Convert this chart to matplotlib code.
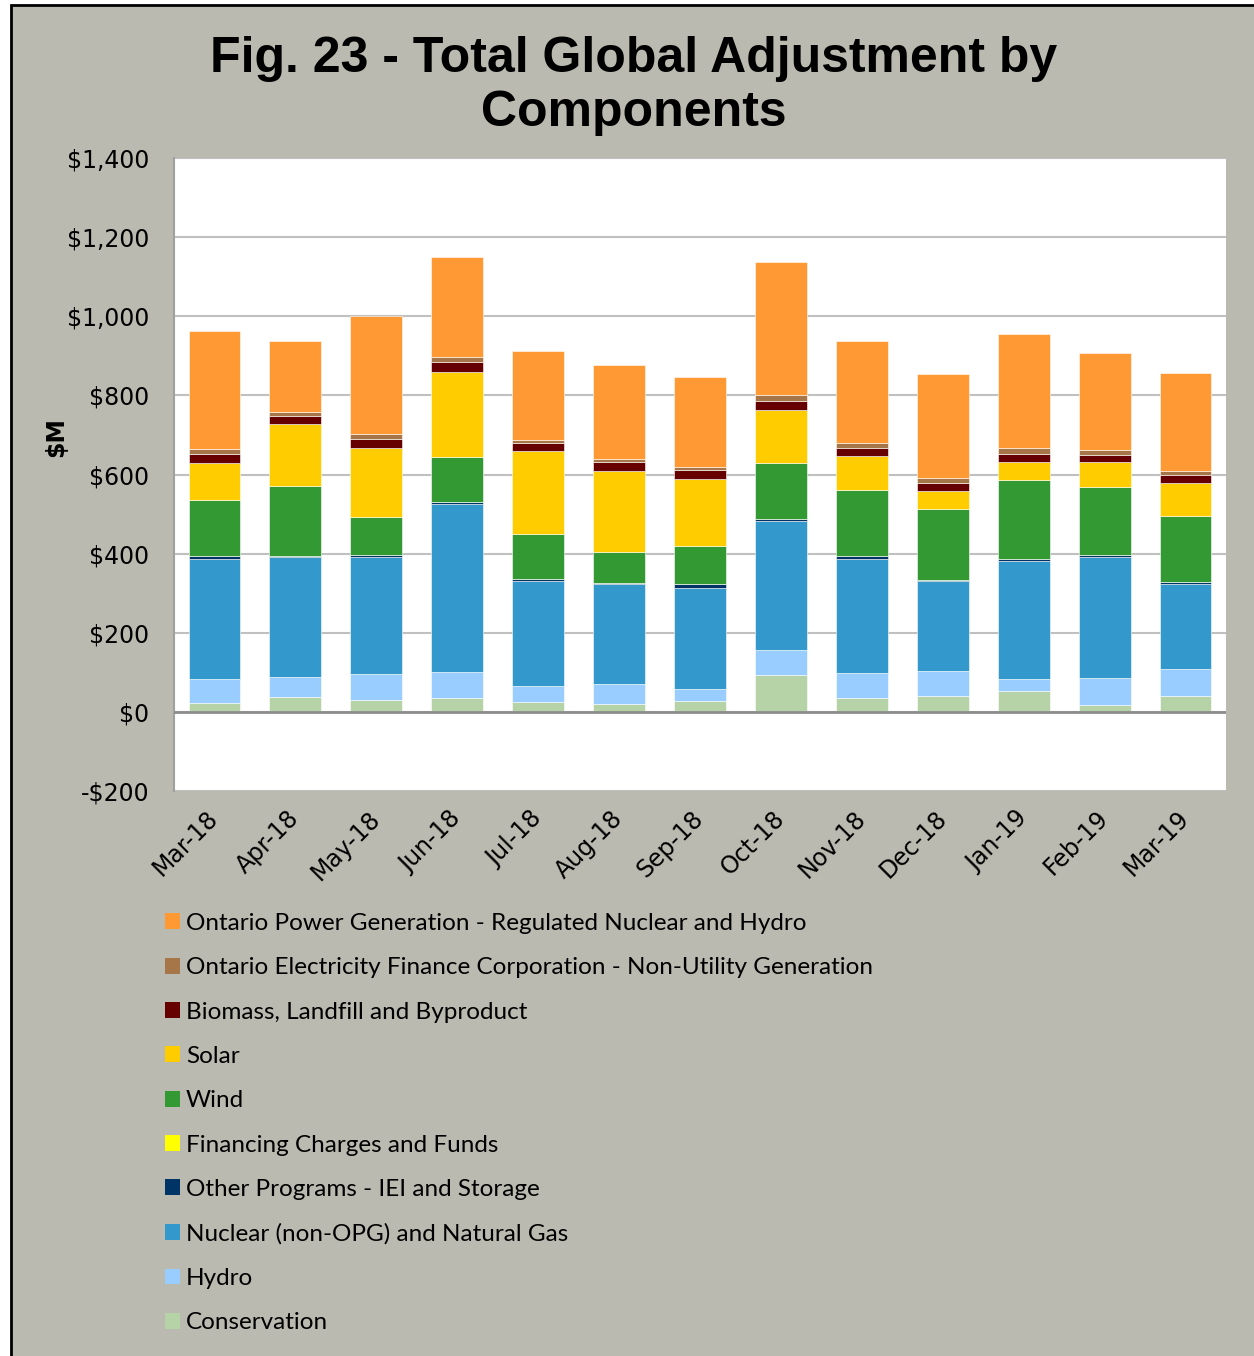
import matplotlib
matplotlib.use("Agg")
import matplotlib.pyplot as plt
from matplotlib.patches import Rectangle, Patch
import numpy as np

months = ["Mar-18", "Apr-18", "May-18", "Jun-18", "Jul-18", "Aug-18", "Sep-18",
          "Oct-18", "Nov-18", "Dec-18", "Jan-19", "Feb-19", "Mar-19"]

# $M per component, bottom of stack first
conservation = [22, 37, 30, 35, 24, 20, 27, 94, 34, 40, 53, 17, 39]
hydro = [60, 51, 66, 66, 41, 51, 31, 63, 65, 63, 30, 69, 69]
nuclear_gas = [304, 303, 295, 425, 266, 251, 256, 325, 288, 229, 298, 306, 214]
other_programs = [9, 2, 6, 4, 5, 4, 8, 5, 8, 2, 6, 5, 6]
financing = [0, 0, 0, 0, 0, 0, 0, 0, 0, 0, 0, 0, 0]
wind = [141, 178, 96, 114, 114, 77, 98, 141, 167, 180, 198, 172, 168]
solar = [92, 156, 175, 215, 209, 205, 169, 134, 85, 44, 46, 62, 83]
biomass = [23, 22, 21, 26, 21, 23, 23, 24, 19, 20, 21, 19, 19]
oefc = [14, 8, 14, 12, 7, 8, 8, 15, 14, 12, 14, 11, 12]
opg = [297, 181, 297, 254, 224, 238, 227, 335, 257, 264, 290, 246, 247]

series = [
    ("Conservation", conservation, "#B5D3A7"),
    ("Hydro", hydro, "#99CCFF"),
    ("Nuclear (non-OPG) and Natural Gas", nuclear_gas, "#3399CC"),
    ("Other Programs - IEI and Storage", other_programs, "#003366"),
    ("Financing Charges and Funds", financing, "#FFFF00"),
    ("Wind", wind, "#339933"),
    ("Solar", solar, "#FFCC00"),
    ("Biomass, Landfill and Byproduct", biomass, "#660000"),
    ("Ontario Electricity Finance Corporation - Non-Utility Generation", oefc, "#A67548"),
    ("Ontario Power Generation - Regulated Nuclear and Hydro", opg, "#FF9933"),
]

W, H = 1254, 1356
fig = plt.figure(figsize=(W / 100, H / 100), dpi=100)
fig.patch.set_facecolor("white")
fig.patches.append(Rectangle((11 / W, -0.01), 1.1, 1 - 5 / H + 0.01, transform=fig.transFigure,
                             facecolor="#BABAB0", edgecolor="black", linewidth=2, zorder=-10))

ax = fig.add_axes([174 / W, 1 - 791 / H, (1226 - 174) / W, (791 - 158) / H])
ax.set_facecolor("white")

x = np.arange(len(months))
bottom = np.zeros(len(months))
for name, vals, color in series:
    vals = np.array(vals, dtype=float)
    ax.bar(x, vals, 0.64, bottom=bottom, color=color, edgecolor="white", linewidth=0.4,
           label=name, zorder=3)
    bottom += vals

ax.set_xlim(-0.5, len(months) - 0.5)
ax.set_ylim(-200, 1400)
ax.set_yticks(range(-200, 1401, 200))
ax.set_yticklabels([f"-${abs(v):,}" if v < 0 else f"${v:,}" for v in range(-200, 1401, 200)],
                   fontsize=17, family="DejaVu Sans")
ax.yaxis.grid(True, color="#C0C0C0", linewidth=1.5, zorder=0)
ax.axhline(0, color="#8C8C8C", linewidth=2, zorder=4)
ax.set_xticks(x)
ax.set_xticklabels(months, rotation=45, ha="right", va="center", rotation_mode="anchor",
                   fontsize=17, family="DejaVu Sans")
ax.tick_params(axis="y", length=0, pad=18)
ax.tick_params(axis="x", length=0, pad=17)
for s in ["top", "right", "bottom"]:
    ax.spines[s].set_visible(False)
ax.spines["left"].set_color("#A0A0A0")
ax.spines["left"].set_linewidth(1.5)

fig.text(56 / W, 1 - 437 / H, "$M", rotation=90, ha="center", va="center",
         fontsize=17, fontweight="bold", family="DejaVu Sans")

fig.text(634 / W, 1 - 86 / H, "Fig. 23 - Total Global Adjustment by\nComponents",
         ha="center", va="center", fontsize=36, fontweight="bold",
         family="Liberation Sans", linespacing=1.22)

handles = [Patch(facecolor=c, edgecolor="none") for _, _, c in series][::-1]
labels = [n for n, _, _ in series][::-1]
fig.legend(handles, labels, loc="upper left", bbox_to_anchor=(143 / W, 1 - 891 / H),
           frameon=False, prop={"family": "Lato", "size": 17.5},
           handlelength=0.62, handleheight=0.62, handletextpad=0.25, labelspacing=0.96)

fig.savefig("out.png", dpi=100)
